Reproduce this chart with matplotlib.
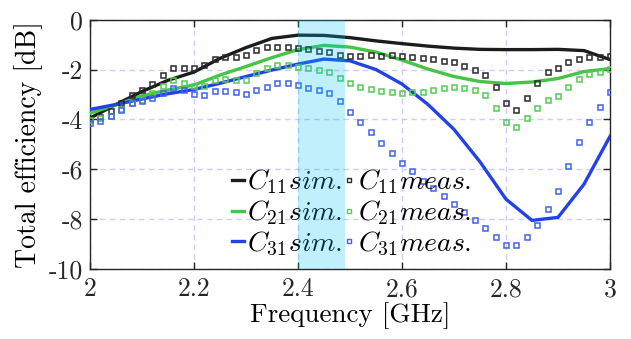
import numpy as np
import matplotlib
matplotlib.use("Agg")
import matplotlib.pyplot as plt
from matplotlib.lines import Line2D

plt.rcParams["font.family"] = ["cmr10", "DejaVu Serif"]
plt.rcParams["mathtext.fontset"] = "cm"
plt.rcParams["axes.unicode_minus"] = False

# Simulated efficiencies (0.05 GHz steps)
f_sim = np.linspace(2.0, 3.0, 21)
c11_sim = [-3.95, -3.40, -2.88, -2.43, -2.10, -1.55, -1.12, -0.75, -0.62, -0.63,
           -0.72, -0.85, -0.96, -1.06, -1.14, -1.19, -1.20, -1.20, -1.19, -1.24, -1.60]
c21_sim = [-3.75, -3.42, -3.05, -2.82, -2.62, -2.22, -1.88, -1.52, -1.20, -1.03,
           -1.10, -1.30, -1.62, -1.98, -2.28, -2.48, -2.56, -2.50, -2.36, -2.08, -1.96]
c31_sim = [-3.60, -3.40, -3.18, -2.97, -2.80, -2.55, -2.28, -2.02, -1.78, -1.58,
           -1.65, -2.00, -2.58, -3.40, -4.40, -5.70, -7.20, -8.05, -7.93, -6.60, -4.68]

# Measured efficiencies (0.02 GHz steps)
f_meas = np.linspace(2.0, 3.0, 51)
c11_meas = [-3.97, -3.91, -3.66, -3.35, -3.03, -2.84, -2.56, -2.23, -1.95, -1.95,
            -1.92, -1.83, -1.56, -1.48, -1.48, -1.41, -1.20, -1.08, -1.08, -1.08,
            -1.15, -1.17, -1.25, -1.28, -1.43, -1.45, -1.45, -1.41, -1.45, -1.43,
            -1.45, -1.48, -1.55, -1.58, -1.64, -1.71, -1.85, -2.00, -2.21, -2.68,
            -3.35, -3.63, -3.16, -2.52, -2.11, -1.92, -1.71, -1.56, -1.48, -1.48,
            -1.45]
c21_meas = [-4.02, -3.95, -3.88, -3.58, -3.35, -3.21, -2.95, -2.65, -2.41, -2.55,
            -2.65, -2.65, -2.43, -2.37, -2.43, -2.41, -2.15, -1.93, -1.83, -1.80,
            -1.91, -1.92, -2.01, -2.09, -2.33, -2.53, -2.68, -2.76, -2.87, -2.89,
            -2.95, -2.91, -2.92, -2.83, -2.75, -2.68, -2.73, -2.84, -3.04, -3.53,
            -4.09, -4.29, -3.93, -3.53, -3.24, -3.05, -2.69, -2.39, -2.19, -2.08,
            -1.96]
c31_meas = [-4.16, -4.08, -3.85, -3.61, -3.36, -3.27, -3.15, -2.93, -2.72, -2.83,
            -2.99, -3.01, -2.85, -2.85, -2.92, -2.97, -2.83, -2.69, -2.53, -2.53,
            -2.61, -2.73, -2.80, -2.93, -3.27, -3.71, -4.11, -4.50, -4.94, -5.34,
            -5.76, -6.08, -6.46, -6.77, -7.08, -7.40, -7.72, -8.04, -8.35, -8.72,
            -9.04, -9.04, -8.73, -8.23, -7.60, -6.87, -5.87, -4.92, -4.11, -3.49,
            -2.89]

band = (2.40, 2.49)

x_ticks = [2.0, 2.2, 2.4, 2.6, 2.8, 3.0]
x_labels = ["2", "2.2", "2.4", "2.6", "2.8", "3"]
y_ticks = [0, -2, -4, -6, -8, -10]
y_labels = ["0", "-2", "-4", "-6", "-8", "-10"]

col_line = ["#1c1c1c", "#45c445", "#2342e6"]
col_mark = ["#2a2a2a", "#55cc55", "#4262ee"]
names = ["11", "21", "31"]

fig = plt.figure(figsize=(6.31, 3.39), dpi=100)
ax = fig.add_axes([0.1426, 0.2065, 0.8241, 0.7354])

sims = [c11_sim, c21_sim, c31_sim]
meas = [c11_meas, c21_meas, c31_meas]
for i in range(3):
    ax.plot(f_sim, sims[i], color=col_line[i], lw=2.4, zorder=3,
            solid_joinstyle="miter")
for i in range(3):
    ax.plot(f_meas, meas[i], ls="none", marker="s", ms=3.6, mfc="none",
            mec=col_mark[i], mew=1.1, zorder=4)

ax.set_xlim(2, 3)
ax.set_ylim(-10, 0)
ax.set_xticks(x_ticks)
ax.set_xticklabels(x_labels)
ax.set_yticks(y_ticks)
ax.set_yticklabels(y_labels)
ax.tick_params(direction="in", length=5, width=1, labelsize=18.5, top=True,
               right=True, colors="#262626", pad=5)
ax.tick_params(axis="x", pad=6)
for s in ax.spines.values():
    s.set_color("#262626")
    s.set_linewidth(1.0)
ax.grid(True, color="#ccccff", ls=(0, (4, 3)), lw=1.0)
ax.set_axisbelow(True)

ax.set_xlabel("Frequency [GHz]", fontsize=19.5, labelpad=1)
ax.set_ylabel("Total efficiency [dB]", fontsize=20, labelpad=4)

handles = []
labels = []
for i in range(3):
    handles.append(Line2D([], [], color=col_line[i], lw=2.4))
    labels.append(r"$C_{%s}sim.$" % names[i])
for i in range(3):
    handles.append(Line2D([], [], ls="none", marker="s", ms=3, mfc="none",
                          mec=col_mark[i], mew=1.0))
    labels.append(r"$C_{%s}meas.$" % names[i])
leg = ax.legend(handles, labels, ncol=2, frameon=False, fontsize=20,
                handlelength=0.45, handletextpad=0.1, columnspacing=0.0,
                labelspacing=0.09, borderpad=0.1,
                loc="lower left", bbox_to_anchor=(0.241, -0.022))
leg.set_zorder(5)

ax.axvspan(band[0], band[1], color="#00c4f2", alpha=0.25, lw=0, zorder=6)

fig.savefig("out.png", dpi=100)
